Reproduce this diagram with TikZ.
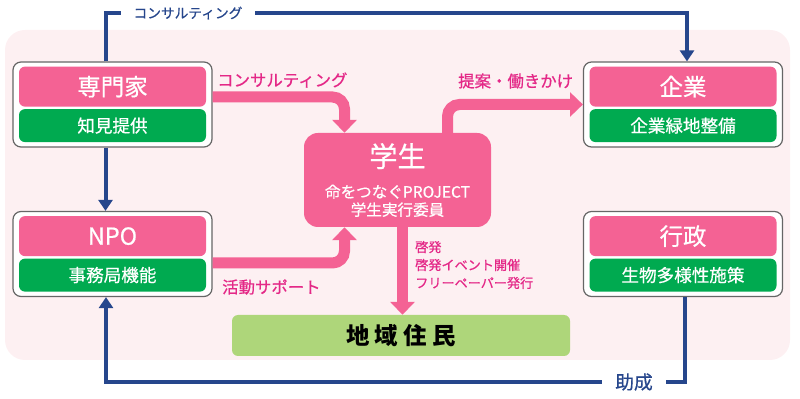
\documentclass[tikz,border=0pt]{standalone}
\usepackage{fontspec}
\setmainfont{Noto Sans CJK JP}
\newfontfamily\medium[FakeBold=0.6]{Noto Sans CJK JP}
\usetikzlibrary{arrows.meta,positioning,calc}
\definecolor{bgpink}{RGB}{253,240,242}
\definecolor{boxpink}{RGB}{244,98,148}
\definecolor{txtpink}{RGB}{228,40,135}
\definecolor{subgreen}{RGB}{0,170,80}
\definecolor{lightgreen}{RGB}{174,214,122}
\definecolor{navy}{RGB}{38,70,140}
\newdimen\pxu \pxu=0.03cm
\tikzset{
 grp/.style={draw=black!60,fill=white,rounded corners=8\pxu,line width=1.2\pxu,minimum width=199\pxu,minimum height=85\pxu},
 head/.style={fill=boxpink,text=white,rounded corners=6\pxu,minimum width=187\pxu,minimum height=40\pxu,inner sep=0pt,font=\medium\fontsize{20}{22}\selectfont},
 sub/.style={fill=subgreen,text=white,rounded corners=6\pxu,minimum width=187\pxu,minimum height=33\pxu,inner sep=0pt,font=\medium\fontsize{15}{17}\selectfont},
 pinkarrow/.style={boxpink,line width=11\pxu,rounded corners=12\pxu,-{Triangle[width=20.4pt,length=11pt]}},
 bluearrow/.style={navy,line width=4\pxu,-{Triangle[width=11.9pt,length=9.4pt]}},
 pinklabel/.style={text=txtpink,anchor=west,inner sep=0pt,font=\medium\fontsize{14}{16}\selectfont},
 bluelabel/.style={text=navy,fill=white,inner xsep=13\pxu,inner ysep=2\pxu}
}
\begin{document}
\begin{tikzpicture}[x=0.03cm,y=-0.03cm]
\useasboundingbox (0,0) rectangle (800,399);
\fill[bgpink,rounded corners=20\pxu] (5,30) rectangle (790,360);
% four partner groups
\foreach \nm/\x/\y/\hd/\sb in {expert/112.5/104.5/専門家/知見提供,npo/112.5/254/NPO/事務局機能,company/683/104.5/企業/企業緑地整備,gov/683/254/行政/生物多様性施策}{
 \node[grp] (\nm) at (\x,\y) {};
 \node[head,below=5\pxu of \nm.north,anchor=north] (\nm H) {\hd};
 \node[sub,below=2\pxu of \nm H] (\nm S) {\sb};
}
\node[fill=boxpink,text=white,rounded corners=14\pxu,minimum width=187\pxu,minimum height=94\pxu,align=center,font=\medium\fontsize{13.3}{15.3}\selectfont] (student) at (397.5,180) {{\fontsize{24}{26}\selectfont 学生}\\[11pt]命をつなぐPROJECT\\学生実行委員};
\node[fill=lightgreen,rounded corners=6\pxu,minimum width=338\pxu,minimum height=41\pxu,font=\bfseries\fontsize{20}{22}\selectfont] (residents) at (401,335.5) {地 域 住 民};
% pink flows
\coordinate (expOut) at ($(expert.east)+(0,-7.5)$); \coordinate (npoOut) at ($(npo.east)+(0,9)$);
\coordinate (stuIn1) at ($(student.north)+(-53,0)$); \coordinate (stuIn2) at ($(student.south)+(-53,0)$);
\coordinate (stuOut) at ($(student.north)+(50,0)$); \coordinate (down) at ($(student.south)+(5,0)$);
\draw[pinkarrow] (expOut) -| (stuIn1);
\draw[pinkarrow] (stuOut) |- (company.west);
\draw[pinkarrow] (npoOut) -| (stuIn2);
\draw[pinkarrow] (down) -- (down |- residents.north);
\node[pinklabel] (consultP) at (217,80) {コンサルティング};
\node[pinklabel] (propose) at (458,81) {提案・働きかけ};
\node[pinklabel] (support) at (222,287) {活動サポート};
\node[pinklabel,align=left,font=\medium\fontsize{11.2}{15.3}\selectfont] (enlight) at (415,265) {啓発\\啓発イベント開催\\フリーペーパー発行};
% blue flows
\coordinate (topL) at ($(expert.north)+(-7,0)$); \coordinate (topR) at (687,13);
\coordinate (midT) at ($(expert.south)+(-7,0)$); \coordinate (midB) at ($(npo.north)+(-7,0)$);
\coordinate (govOut) at ($(gov.south)+(2,0)$); \coordinate (botL) at (106,382);
\draw[bluearrow] (topL) |- (topR) -- (topR |- company.north);
\draw[bluearrow] (midT) -- (midB);
\draw[bluearrow] (govOut) |- (botL) -- (botL |- npo.south);
\node[bluelabel,font=\medium\fontsize{11.7}{13}\selectfont] (consultB) at (188,13) {コンサルティング};
\node[bluelabel,font=\medium\fontsize{16}{18}\selectfont] (grant) at (634,382) {助成};
\end{tikzpicture}
\end{document}
